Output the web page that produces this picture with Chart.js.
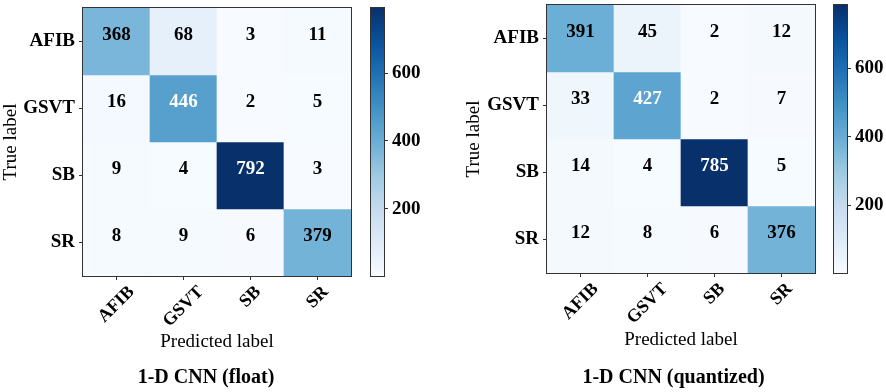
<!DOCTYPE html>
<html>
<head>
<meta charset="utf-8">
<script src="https://cdn.jsdelivr.net/npm/chart.js@4.4.1/dist/chart.umd.min.js"></script>
<style>
  html, body { margin: 0; padding: 0; background: #fff; }
  #wrap { position: relative; width: 886px; height: 392px; overflow: hidden; }
  canvas { position: absolute; top: 0; }
</style>
</head>
<body>
<div id="wrap">
  <canvas id="matrixFloat" width="412" height="392" style="left:0px"></canvas>
  <canvas id="barFloat" width="80" height="392" style="left:360px"></canvas>
  <canvas id="matrixQuant" width="421" height="392" style="left:463px"></canvas>
  <canvas id="barQuant" width="66" height="392" style="left:820px"></canvas>
</div>
<script>
const classLabels = ["AFIB", "GSVT", "SB", "SR"];

// rows = true label, columns = predicted label
const floatCounts = [
  [368, 68, 3, 11],
  [16, 446, 2, 5],
  [9, 4, 792, 3],
  [8, 9, 6, 379],
];
const quantCounts = [
  [391, 45, 2, 12],
  [33, 427, 2, 7],
  [14, 4, 785, 5],
  [12, 8, 6, 376],
];
const colorbarTicks = [200, 400, 600];
const floatTitle = "1-D CNN (float)";
const quantTitle = "1-D CNN (quantized)";

const SERIF = "'Liberation Serif', 'Times New Roman', serif";
const EDGE = "#333";

// matplotlib "Blues"
const BLUES = ["#f7fbff", "#deebf7", "#c6dbef", "#9ecae1", "#6baed6",
  "#4292c6", "#2171b5", "#08519c", "#08306b"];

function hexToRgb(hex) {
  const n = parseInt(hex.slice(1), 16);
  return [(n >> 16) & 255, (n >> 8) & 255, n & 255];
}

function blues(t) {
  t = Math.max(0, Math.min(1, t));
  const p = t * (BLUES.length - 1);
  const i = Math.min(BLUES.length - 2, Math.floor(p));
  const f = p - i;
  const a = hexToRgb(BLUES[i]);
  const b = hexToRgb(BLUES[i + 1]);
  const c = a.map((v, k) => Math.round(v + (b[k] - v) * f));
  return `rgb(${c[0]}, ${c[1]}, ${c[2]})`;
}

function range(counts) {
  const flat = counts.flat();
  return { vmin: Math.min(...flat), vmax: Math.max(...flat) };
}

function noPadding(scale) {
  scale.paddingTop = 0;
  scale.paddingBottom = 0;
  scale.paddingLeft = 0;
  scale.paddingRight = 0;
}

const framePlugin = {
  id: "frame",
  afterDraw(chart) {
    const { ctx, chartArea: a } = chart;
    ctx.save();
    ctx.strokeStyle = EDGE;
    ctx.lineWidth = 1;
    ctx.strokeRect(a.left - 0.5, a.top - 0.5, a.right - a.left + 1, a.bottom - a.top + 1);
    ctx.restore();
  },
};

function createMatrix(canvasId, counts, title, geo) {
  const { vmin, vmax } = range(counts);
  const threshold = (vmin + vmax) / 2;

  const datasets = counts.map((row, r) => ({
    label: classLabels[r],
    data: row.map(() => [r - 0.5, r + 0.5]),
    backgroundColor: row.map((v) => blues((v - vmin) / (vmax - vmin))),
    borderWidth: 0,
    barPercentage: 1,
    categoryPercentage: 1,
    grouped: false,
  }));

  const cellText = {
    id: "cellText",
    afterDatasetsDraw(chart) {
      const ctx = chart.ctx;
      ctx.save();
      ctx.font = `bold 19px ${SERIF}`;
      ctx.textAlign = "center";
      ctx.textBaseline = "middle";
      counts.forEach((row, r) => {
        const meta = chart.getDatasetMeta(r);
        meta.data.forEach((bar, c) => {
          const { x, y, base } = bar.getProps(["x", "y", "base"], true);
          ctx.fillStyle = row[c] > threshold ? "#ffffff" : "#000000";
          ctx.fillText(String(row[c]), x, (y + base) / 2 - 6);
        });
      });
      ctx.restore();
    },
  };

  // rotated x labels, centred under each tick like matplotlib
  const xLabels = {
    id: "xLabels",
    afterDraw(chart) {
      const ctx = chart.ctx;
      const sx = chart.scales.x;
      const size = 18;
      ctx.save();
      ctx.font = `bold ${size}px ${SERIF}`;
      ctx.fillStyle = "#000";
      ctx.textAlign = "center";
      ctx.textBaseline = "middle";
      classLabels.forEach((label, i) => {
        const x = sx.getPixelForTick(i);
        const w = ctx.measureText(label).width;
        const ext = (w + 0.66 * size) * Math.SQRT1_2;
        ctx.save();
        ctx.translate(x, sx.top + 9 + ext / 2);
        ctx.rotate(-Math.PI / 4);
        ctx.fillText(label, 0, 0);
        ctx.restore();
      });
      ctx.restore();
    },
  };

  return new Chart(document.getElementById(canvasId), {
    type: "bar",
    data: { labels: classLabels, datasets },
    plugins: [cellText, xLabels, framePlugin],
    options: {
      responsive: false,
      animation: false,
      events: [],
      layout: { padding: 0 },
      plugins: {
        legend: { display: false },
        tooltip: { enabled: false },
        title: {
          display: true,
          position: "bottom",
          text: title,
          color: "#000",
          font: { family: SERIF, size: 20, weight: "bold" },
          padding: { top: 0, bottom: 2 },
        },
      },
      scales: {
        x: {
          type: "category",
          position: "bottom",
          offset: true,
          ticks: { display: false },
          grid: { drawOnChartArea: false, offset: false, tickLength: 4, color: EDGE },
          border: { display: false },
          title: {
            display: true,
            text: "Predicted label",
            color: "#000",
            font: { family: SERIF, size: 19 },
            padding: { top: 0, bottom: geo.xTitlePad },
          },
          afterFit(scale) {
            scale.height = geo.xAxisH;
            noPadding(scale);
          },
        },
        y: {
          type: "linear",
          position: "left",
          reverse: true,
          min: -0.5,
          max: 3.5,
          afterBuildTicks(scale) {
            scale.ticks = classLabels.map((_, i) => ({ value: i }));
          },
          ticks: {
            autoSkip: false,
            padding: 4,
            color: "#000",
            font: { family: SERIF, size: 19, weight: "bold" },
            callback: (value) => classLabels[value],
          },
          grid: { drawOnChartArea: false, tickLength: 4, color: EDGE },
          border: { display: false },
          title: {
            display: true,
            text: "True label",
            color: "#000",
            font: { family: SERIF, size: 19 },
            padding: { top: 0, bottom: 0 },
          },
          afterFit(scale) {
            scale.width = geo.yAxisW;
            noPadding(scale);
          },
        },
        xTop: {
          type: "category",
          position: "top",
          labels: classLabels,
          ticks: { display: false },
          grid: { display: false },
          border: { display: false },
          afterFit(scale) {
            scale.height = geo.top;
            noPadding(scale);
          },
        },
        yRight: {
          type: "linear",
          position: "right",
          ticks: { display: false },
          grid: { display: false },
          border: { display: false },
          afterFit(scale) {
            scale.width = geo.rightW;
            noPadding(scale);
          },
        },
      },
    },
  });
}

function createColorbar(canvasId, counts, geo) {
  const { vmin, vmax } = range(counts);

  return new Chart(document.getElementById(canvasId), {
    type: "bar",
    data: {
      labels: [""],
      datasets: [{
        data: [[vmin, vmax]],
        borderWidth: 0,
        barPercentage: 1,
        categoryPercentage: 1,
        backgroundColor(context) {
          const area = context.chart.chartArea;
          if (!area) return BLUES[4];
          const g = context.chart.ctx.createLinearGradient(0, area.bottom, 0, area.top);
          BLUES.forEach((c, i) => g.addColorStop(i / (BLUES.length - 1), c));
          return g;
        },
      }],
    },
    plugins: [framePlugin],
    options: {
      responsive: false,
      animation: false,
      events: [],
      layout: { padding: { left: geo.padL, top: geo.top, bottom: geo.padB, right: 0 } },
      plugins: { legend: { display: false }, tooltip: { enabled: false } },
      scales: {
        x: { display: false },
        y: {
          position: "right",
          min: vmin,
          max: vmax,
          afterBuildTicks(scale) {
            scale.ticks = colorbarTicks.map((v) => ({ value: v }));
          },
          ticks: {
            padding: 4,
            color: "#000",
            font: { family: SERIF, size: 19, weight: "bold" },
          },
          grid: { drawOnChartArea: false, tickLength: 4, color: EDGE },
          border: { display: false },
          afterFit(scale) {
            scale.width = geo.axisW;
            noPadding(scale);
          },
        },
      },
    },
  });
}

createMatrix("matrixFloat", floatCounts, floatTitle,
  { top: 8, yAxisW: 83, rightW: 61, xAxisH: 90, xTitlePad: 12.6 });
createColorbar("barFloat", floatCounts, { padL: 11, top: 8, padB: 116, axisW: 56 });
createMatrix("matrixQuant", quantCounts, quantTitle,
  { top: 5, yAxisW: 84, rightW: 69, xAxisH: 93, xTitlePad: 14.6 });
createColorbar("barQuant", quantCounts, { padL: 14, top: 5, padB: 119, axisW: 39 });
</script>
</body>
</html>
